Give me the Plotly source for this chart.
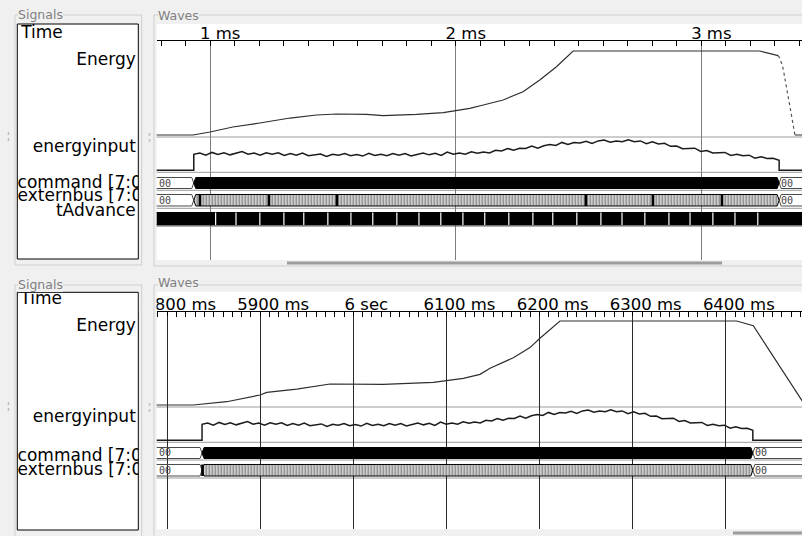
import numpy as np
import plotly.graph_objects as go

W, H = 802, 536

# ======================= DATA =======================
# ---- top window (time in ms) ----
top_view_ms = [0.782, 3.410]
top_major_ms, top_minor_ms = 1, 0.1

top_energy_t = [0.70, 0.930, 0.999, 1.092, 1.202, 1.325, 1.433, 1.515, 1.637, 1.704,
                1.840, 1.949, 2.000, 2.057, 2.112, 2.193, 2.274, 2.342, 2.410, 2.478,
                3.238, 3.313, 3.320, 3.333, 3.347, 3.361, 3.367, 3.381, 3.50]
top_energy_v = [0, 0, 3.6, 9.5, 14.3, 20.2, 23.8, 25.0, 24.6, 23.0,
                24.6, 26.6, 29.0, 31.7, 35.7, 41.7, 51.5, 65.5, 81.3, 100,
                100, 94.4, 91.3, 79.4, 57.5, 37.7, 23.8, 0, 0]

top_active_ms = [0.933, 3.317]           # energyinput on / bus activity window
top_extern_marks_ms = [0.958, 1.239, 1.516, 2.530, 2.803, 3.084]
top_tadvance_gaps_ms = [1.022, 1.105, 1.202, 1.300, 1.381, 1.479, 1.573, 1.662, 1.760,
                        1.850, 1.939, 2.029, 2.118, 2.216, 2.314, 2.395, 2.493, 2.591,
                        2.677, 2.770, 2.868, 2.954, 3.047, 3.137, 3.230]

# ---- bottom window (time in ms) ----
bot_view_ms = [5788.8, 6481.8]
bot_major_ms, bot_minor_ms = 100, 10

bot_energy_t = [5780, 5828.1, 5864.0, 5899.8, 5907.0, 5939.2, 5974.9, 5999.9, 6032.2, 6085.9,
                6118.1, 6136.0, 6146.8, 6171.8, 6189.7, 6200.4, 6221.9, 6411.7, 6429.5, 6484.9, 6500]
bot_energy_v = [0, 0, 3.9, 11.9, 15.1, 19.0, 25.0, 25.0, 24.6, 27.0,
                31.8, 36.5, 43.7, 56.3, 68.3, 79.4, 100, 100, 94.4, 0, 0]

bot_active_ms = [5837.5, 6429.0]
bot_extern_marks_ms = [5838.0]

# energyinput while active (uniform samples across the active window)
energyinput_v = [53, 57, 50, 59, 52, 58, 51, 57, 62, 53, 57, 50, 58, 53, 58, 49, 55, 50, 57, 48,
                 51, 54, 46, 53, 50, 55, 48, 52, 47, 56, 49, 53, 48, 55, 50, 55, 47, 53, 57, 51,
                 56, 49, 60, 53, 57, 53, 61, 56, 60, 57, 66, 64, 72, 66, 73, 72, 80, 73, 81, 85,
                 82, 92, 85, 92, 90, 96, 89, 97, 100, 93, 97, 94, 101, 94, 97, 88, 94, 87, 89, 79,
                 80, 71, 72, 73, 62, 65, 57, 58, 59, 49, 53, 48, 50, 40, 45, 39, 40, 33]

bus_idle_value = "00"
top_signal_names = ["Time", "Energy", "energyinput", "command [7:0]", "externbus [7:0]", "tAdvance"]
bot_signal_names = ["Time", "Energy", "energyinput", "command [7:0]", "externbus [7:0]"]

# ======================= STYLE / LAYOUT =======================
BG = "#f0f0f0"
FRAME = "#cfcfcf"
FONT = "DejaVu Sans"
WAVE_L = 156.7

def ydom(top_px, bot_px):
    return [1 - bot_px / H, 1 - top_px / H]

def row_axis(v_lo, p_lo, v_hi, p_hi, r_lo, r_hi, anchor):
    s = (p_hi - p_lo) / (v_hi - v_lo)
    pb = p_lo + (r_lo - v_lo) * s
    pt = p_lo + (r_hi - v_lo) * s
    return dict(domain=ydom(pt, pb), range=[r_lo, r_hi], visible=False,
                fixedrange=True, anchor=anchor, automargin=False)

def time_axis(view, major, minor, gridc, anchor, shift, alias=None):
    ax = dict(domain=[WAVE_L / W, 1], range=view, anchor=anchor, side="top",
              showline=True, linecolor="black", linewidth=1,
              ticks="inside", ticklen=5, tickcolor="black", tickwidth=1,
              tick0=0, dtick=major, tickformat="d", ticksuffix=" ms",
              tickfont=dict(family=FONT, size=16.5, color="black"),
              ticklabelshift=shift, ticklabelstandoff=-6, automargin=False,
              showgrid=True, gridcolor=gridc, gridwidth=1, zeroline=False,
              fixedrange=True, layer="above traces",
              minor=dict(tick0=0, dtick=minor, ticks="inside", ticklen=5,
                         tickcolor="black", tickwidth=1, showgrid=False))
    if alias:
        ax["labelalias"] = alias
    return ax

fig = go.Figure()

def S(**kw):
    kw.setdefault("showlegend", False)
    kw.setdefault("hoverinfo", "skip")
    fig.add_trace(go.Scatter(**kw))

def px_per_unit(view):
    return (W - WAVE_L) / (view[1] - view[0])

def draw_panel(xa, ya_ruler, ya_e, ya_ei, ya_cmd, ya_ext, ya_tadv, view, e_t, e_v,
               dotted, active, marks, gaps):
    d = 2.0 / px_per_unit(view)          # bus transition half-width (2 px)
    lo, hi = view[0] - 50 * d, view[1] + 50 * d
    S(x=[], y=[], xaxis=xa, yaxis=ya_ruler)
    # Energy
    if dotted:
        i0, i1 = dotted
        S(x=e_t[:i0 + 1], y=e_v[:i0 + 1], mode="lines", line=dict(color="#2e2e2e", width=1.2),
          xaxis=xa, yaxis=ya_e)
        S(x=e_t[i0:i1 + 1], y=e_v[i0:i1 + 1], mode="lines",
          line=dict(color="#555", width=1.2, dash="dot"), xaxis=xa, yaxis=ya_e)
        S(x=e_t[i1:], y=e_v[i1:], mode="lines", line=dict(color="#2e2e2e", width=1.2),
          xaxis=xa, yaxis=ya_e)
    else:
        S(x=e_t, y=e_v, mode="lines", line=dict(color="#2e2e2e", width=1.2),
          xaxis=xa, yaxis=ya_e)
    # energyinput
    ts, te = active
    samp_t = list(np.linspace(ts, te, len(energyinput_v)))
    S(x=[lo, ts] + samp_t + [te, hi], y=[0, 0] + energyinput_v + [0, 0], mode="lines",
      line=dict(color="#1c1c1c", width=1.5), xaxis=xa, yaxis=ya_ei)
    # buses
    for ya, busy in ((ya_cmd, "solid"), (ya_ext, "hatch")):
        S(x=[lo, ts - d, ts, ts - d, lo], y=[1, 1, 0.5, 0, 0], mode="lines",
          line=dict(color="#4a4a4a", width=1), xaxis=xa, yaxis=ya)
        S(x=[hi, te + d, te, te + d, hi], y=[1, 1, 0.5, 0, 0], mode="lines",
          line=dict(color="#4a4a4a", width=1), xaxis=xa, yaxis=ya)
        poly_x = [ts, ts + d, te - d, te, te - d, ts + d, ts]
        poly_y = [0.5, 1, 1, 0.5, 0, 0, 0.5]
        if busy == "solid":
            S(x=poly_x, y=poly_y, mode="lines", fill="toself", fillcolor="black",
              line=dict(color="black", width=1), xaxis=xa, yaxis=ya)
        else:
            S(x=poly_x, y=poly_y, mode="lines", fill="toself",
              fillpattern=dict(shape="|", size=3, solidity=0.6, fgcolor="black",
                               bgcolor="white"),
              line=dict(color="black", width=1), xaxis=xa, yaxis=ya)
            mx, my = [], []
            for m in marks:
                mx += [m, m, None]
                my += [0, 1, None]
            S(x=mx, y=my, mode="lines", line=dict(color="black", width=2.6),
              xaxis=xa, yaxis=ya)
        # value labels
        fig.add_annotation(text=bus_idle_value, xref=xa + " domain", yref=ya, x=0, y=0.5,
                           xanchor="left", yanchor="middle", xshift=0.5, showarrow=False,
                           font=dict(family="DejaVu Sans Mono", size=10, color="#444444"))
        fig.add_annotation(text=bus_idle_value, xref=xa, yref=ya, x=te, y=0.5,
                           xanchor="left", yanchor="middle", xshift=0, showarrow=False,
                           font=dict(family="DejaVu Sans Mono", size=10, color="#444444"))
    # tAdvance
    if ya_tadv:
        S(x=[lo, hi, hi, lo, lo], y=[0, 0, 1, 1, 0], mode="lines", fill="toself",
          fillcolor="black", line=dict(color="black", width=1), xaxis=xa, yaxis=ya_tadv)
        gx, gy = [], []
        for g in gaps:
            gx += [g, g, None]
            gy += [0, 1, None]
        S(x=gx, y=gy, mode="lines", line=dict(color="white", width=1.2),
          xaxis=xa, yaxis=ya_tadv)

draw_panel("x", "y", "y2", "y3", "y4", "y5", "y6", top_view_ms, top_energy_t, top_energy_v,
           (21, 27), top_active_ms, top_extern_marks_ms, top_tadvance_gaps_ms)
draw_panel("x2", "y7", "y8", "y9", "y10", "y11", None, bot_view_ms, bot_energy_t, bot_energy_v,
           None, bot_active_ms, bot_extern_marks_ms, [])

# ---- signal name panels (clipped text) ----
def names(xa, ya, labels, ys, xs, pos):
    S(x=xs, y=ys, text=labels, mode="text", textposition=pos,
      textfont=dict(family=FONT, size=17, color="black"), cliponaxis=True,
      xaxis=xa, yaxis=ya)

names("x3", "y12", top_signal_names,
      [34.1, 60.8, 147.5, 184.1, 197.1, 211.9],
      [21.2, 135.8, 135.8, 17.6, 17.6, 135.8],
      ["middle right", "middle left", "middle left", "middle right", "middle right", "middle left"])
names("x4", "y13", bot_signal_names,
      [300.1, 326.8, 418.1, 456.9, 470.8],
      [20.4, 135.8, 135.8, 17.6, 17.6],
      ["middle right", "middle left", "middle left", "middle right", "middle right"])

# ---- shapes (frames, backgrounds, separators) ----
def P(xp, yp):
    return xp / W, 1 - yp / H

shapes = []
def rect(x0, y0, x1, y1, fill=None, line=None, lw=1, layer="below"):
    a, b = P(x0, y0)
    c, d_ = P(x1, y1)
    shapes.append(dict(type="rect", xref="paper", yref="paper", x0=a, y0=d_, x1=c, y1=b,
                       fillcolor=fill or "rgba(0,0,0,0)",
                       line=dict(color=line or "rgba(0,0,0,0)", width=lw if line else 0),
                       layer=layer))
def hline(x0, x1, y, color, lw=1, layer="below", dash="solid"):
    a, b = P(x0, y)
    c, _ = P(x1, y)
    shapes.append(dict(type="line", xref="paper", yref="paper", x0=a, y0=b, x1=c, y1=b,
                       line=dict(color=color, width=lw, dash=dash), layer=layer))
def vline(x, y0, y1, color, lw=1, layer="below", dash="solid"):
    a, b = P(x, y0)
    _, d_ = P(x, y1)
    shapes.append(dict(type="line", xref="paper", yref="paper", x0=a, y0=b, x1=a, y1=d_,
                       line=dict(color=color, width=lw, dash=dash), layer=layer))

for off, bottom in ((0, 265), (270, 540)):
    rect(15, 15 + off, 141.7, bottom, line=FRAME)
    rect(154, 15 + off, 810, bottom + 1, line=FRAME)
rect(17.3, 24, 138.3, 259, fill="white", line="black")
rect(17.3, 292.3, 138.3, 530, fill="white", line="black")
rect(WAVE_L, 24, 803, 260, fill="white")
rect(WAVE_L, 291.7, 803, 529.3, fill="white")
for y in (137, 172.3, 190.3, 208.3, 226.3):
    hline(WAVE_L, 802, y, "#9a9a9a")
for y in (407, 442.3, 460.0, 478.0):
    hline(WAVE_L, 802, y, "#9a9a9a")
rect(287, 261.6, 722, 264.4, fill="#9c9c9c")
rect(733, 531.6, 803, 534.4, fill="#9c9c9c")
for y0 in (132, 402):
    vline(8.5, y0, y0 + 9, "#bdbdbd", lw=1.5, dash="dot")
    vline(149.5, y0 + 1, y0 + 10, "#bdbdbd", lw=1.5, dash="dot")
rect(138.9, 286, WAVE_L - 0.2, 311, fill=BG, layer="above")
vline(141.7, 286, 311, FRAME, layer="above")
vline(154, 286, 311, FRAME, layer="above")

for txt, xpx, ypx in (("Signals", 17.5, 14), ("Waves", 157.5, 15),
                      ("Signals", 17.5, 284), ("Waves", 157.5, 282.5)):
    xp, yp = P(xpx, ypx)
    fig.add_annotation(text=txt, xref="paper", yref="paper", x=xp, y=yp, xanchor="left",
                       yanchor="middle", showarrow=False, bgcolor=BG, borderpad=0, borderwidth=0,
                       font=dict(family=FONT, size=12.5, color="#808080"))

hidden = dict(visible=False, fixedrange=True, automargin=False)
layout = dict(
    width=W, height=H, autosize=False, margin=dict(l=0, r=0, t=0, b=0, pad=0),
    paper_bgcolor=BG, plot_bgcolor="rgba(0,0,0,0)", hovermode=False, showlegend=False,
    shapes=shapes,
    xaxis=time_axis(top_view_ms, top_major_ms, top_minor_ms, "#7d7d7d", "y", 10),
    yaxis=dict(hidden, domain=ydom(41, 260), range=[0, 1], anchor="x"),
    yaxis2=row_axis(0, 135, 100, 51, -6, 106, "x"),
    yaxis3=row_axis(0, 170.3, 100, 140, -6, 112, "x"),
    yaxis4=row_axis(0, 188.5, 1, 177.5, -0.15, 1.15, "x"),
    yaxis5=row_axis(0, 206, 1, 194.5, -0.15, 1.15, "x"),
    yaxis6=row_axis(0, 225, 1, 212.5, -0.15, 1.15, "x"),
    xaxis2=time_axis(bot_view_ms, bot_major_ms, bot_minor_ms, "#2a2a2a", "y7", 13,
                     alias={"6000 ms": "6 sec"}),
    yaxis7=dict(hidden, domain=ydom(311.7, 529.3), range=[0, 1], anchor="x2"),
    yaxis8=row_axis(0, 405, 100, 321, -6, 106, "x2"),
    yaxis9=row_axis(0, 440.3, 100, 410, -6, 112, "x2"),
    yaxis10=row_axis(0, 458.5, 1, 447.5, -0.15, 1.15, "x2"),
    yaxis11=row_axis(0, 476, 1, 464.5, -0.15, 1.15, "x2"),
    xaxis3=dict(hidden, domain=[17.3 / W, 138.3 / W], range=[17.3, 138.3], anchor="y12"),
    yaxis12=dict(hidden, domain=ydom(24, 259), range=[259, 24], anchor="x3"),
    xaxis4=dict(hidden, domain=[17.3 / W, 138.3 / W], range=[17.3, 138.3], anchor="y13"),
    yaxis13=dict(hidden, domain=ydom(292.3, 530), range=[530, 292.3], anchor="x4"),
)
fig.update_layout(**layout)
fig.write_html("out.html", config={"displayModeBar": False, "staticPlot": True},
               post_script="document.body.style.margin='0';document.body.style.padding='0';"
                           "document.body.style.overflow='hidden';")
